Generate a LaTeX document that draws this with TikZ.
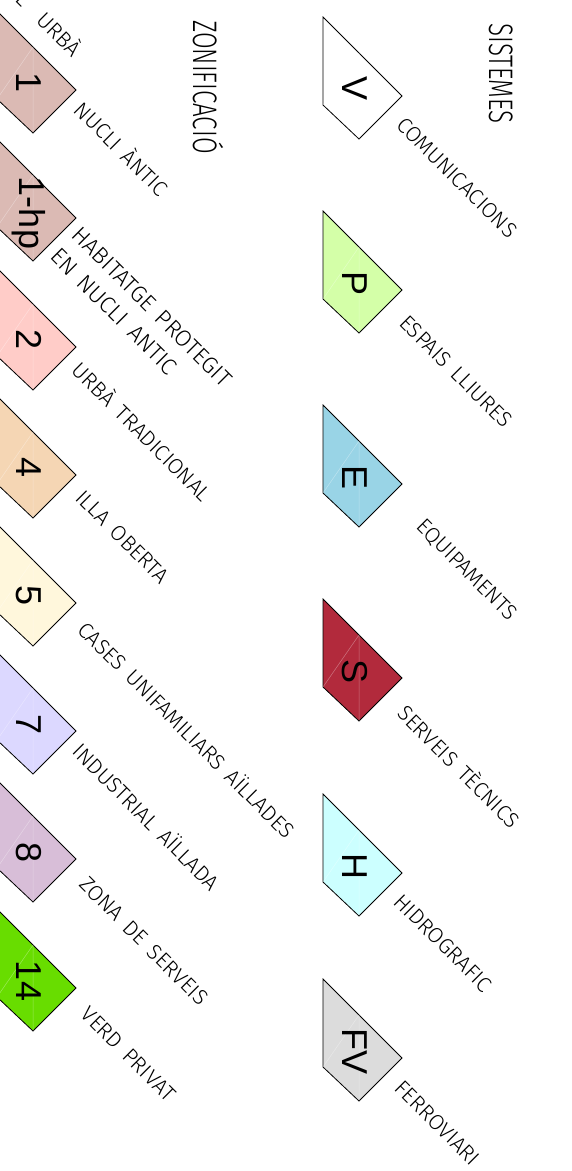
\documentclass[tikz,border=0pt]{standalone}
\usepackage{fontspec}
\newfontfamily\lblfont{Fira Sans Light}[WordSpace=1.6]
\newfontfamily\ttlfont{Fira Sans Light}[FakeStretch=0.71]
\newfontfamily\numfont{Liberation Sans}
\definecolor{cZa}{RGB}{219,186,180}
\definecolor{cZb}{RGB}{255,204,200}
\definecolor{cZc}{RGB}{245,214,180}
\definecolor{cZd}{RGB}{255,247,220}
\definecolor{cZe}{RGB}{220,216,255}
\definecolor{cZf}{RGB}{216,190,216}
\definecolor{cZg}{RGB}{104,221,0}
\definecolor{cSp}{RGB}{212,255,168}
\definecolor{cSe}{RGB}{153,212,230}
\definecolor{cSs}{RGB}{178,42,60}
\definecolor{cSh}{RGB}{204,255,255}
\definecolor{cSf}{RGB}{220,220,220}
\tikzset{
  shapeline/.style={draw=black, line width=0.8pt, line join=miter},
  innerline/.style={draw=white, opacity=0.35, line width=0.5pt},
  num/.style={font=\numfont\fontsize{36}{40}\selectfont, rotate=-90, inner sep=0pt},
  lbl/.style={font=\lblfont\fontsize{21.5}{25}\selectfont, rotate=-45, inner sep=0pt, align=left},
  ttl/.style={font=\ttlfont\fontsize{34}{38}\selectfont, rotate=-90, inner sep=0pt},
}
\newcommand\lgshape[3]{%
  \filldraw[fill=#3, shapeline] (#1,#2) -- ++(79,79) -- ++(-43,43) -- ++(-36,-34) -- cycle;
  \draw[innerline] (#1+36,#2+36) -- (#1+36,#2+122) (#1+36,#2+36) -- (#1,#2+88);
}
\begin{document}
\begin{tikzpicture}[x=1pt,y=-1pt]
\useasboundingbox (0,0) rectangle (572,1171);
% titles
\node[ttl] (tz) at (208,87) {ZONIFICACIÓ};
\node[ttl] (ts) at (501.5,73.5) {SISTEMES};
% zonificacio shapes
\lgshape{-3}{11}{cZa}
\lgshape{-3}{139}{cZa}
\lgshape{-3}{268}{cZb}
\lgshape{-3}{396}{cZc}
\lgshape{-3}{524}{cZd}
\lgshape{-3}{652}{cZe}
\lgshape{-3}{780}{cZf}
\lgshape{-3}{909}{cZg}
\node[num] (z1) at (29,83) {1};
\node[num] (z1hp) at (29,213) {1-hp};
\node[num] (z2) at (29,340) {2};
\node[num] (z4) at (29,468) {4};
\node[num] (z5) at (29,596) {5};
\node[num] (z7) at (29,724) {7};
\node[num] (z8) at (29,852) {8};
\node[num] (z14) at (29,981) {14};
% sistemes shapes
\lgshape{323}{17}{white}
\lgshape{323}{211}{cSp}
\lgshape{323}{405}{cSe}
\lgshape{323}{599}{cSs}
\lgshape{323}{794}{cSh}
\lgshape{323}{979}{cSf}
\node[num] (sv) at (355,89) {V};
\node[num] (sp) at (355,283) {P};
\node[num] (se) at (355,477) {E};
\node[num] (ss) at (355,671) {S};
\node[num] (sh) at (355,866) {H};
\node[num] (sf) at (355,1051) {FV};
% zone labels
\node[lbl, anchor=base east] (lsu) at (72,58) {SÒL\hspace{9pt} URBÀ};
\node[lbl] (l1) at (122.5,148) {NUCLI ÀNTIC};
\node[lbl, anchor=north west, font=\lblfont\fontsize{23}{30}\selectfont] (l1hp) at (82,225) {HABITATGE PROTEGIT\\EN NUCLI ANTIC};
\node[lbl] (l2) at (143,430.5) {URBÀ TRADICIONAL};
\node[lbl] (l4) at (122.5,537) {ILLA OBERTA};
\node[lbl] (l5) at (187.5,729) {CASES UNIFAMILIARS AÏLLADES};
\node[lbl] (l7) at (147.5,816) {INDUSTRIAL AÏLLADA};
\node[lbl] (l8) at (144,941) {ZONA DE SERVEIS};
\node[lbl] (l14) at (128.5,1054) {VERD PRIVAT};
% system labels
\node[lbl] (lv) at (457,177.5) {COMUNICACIONS};
\node[lbl] (lp) at (456,371.5) {ESPAIS LLIURES};
\node[lbl] (le) at (466.5,570) {EQUIPAMENTS};
\node[lbl] (ls) at (460,765.5) {SERVEIS TÈCNICS};
\node[lbl] (lh) at (443,943) {HIDROGRAFIC};
\node[lbl] (lf) at (437.5,1123) {FERROVIARI};
\end{tikzpicture}
\end{document}
